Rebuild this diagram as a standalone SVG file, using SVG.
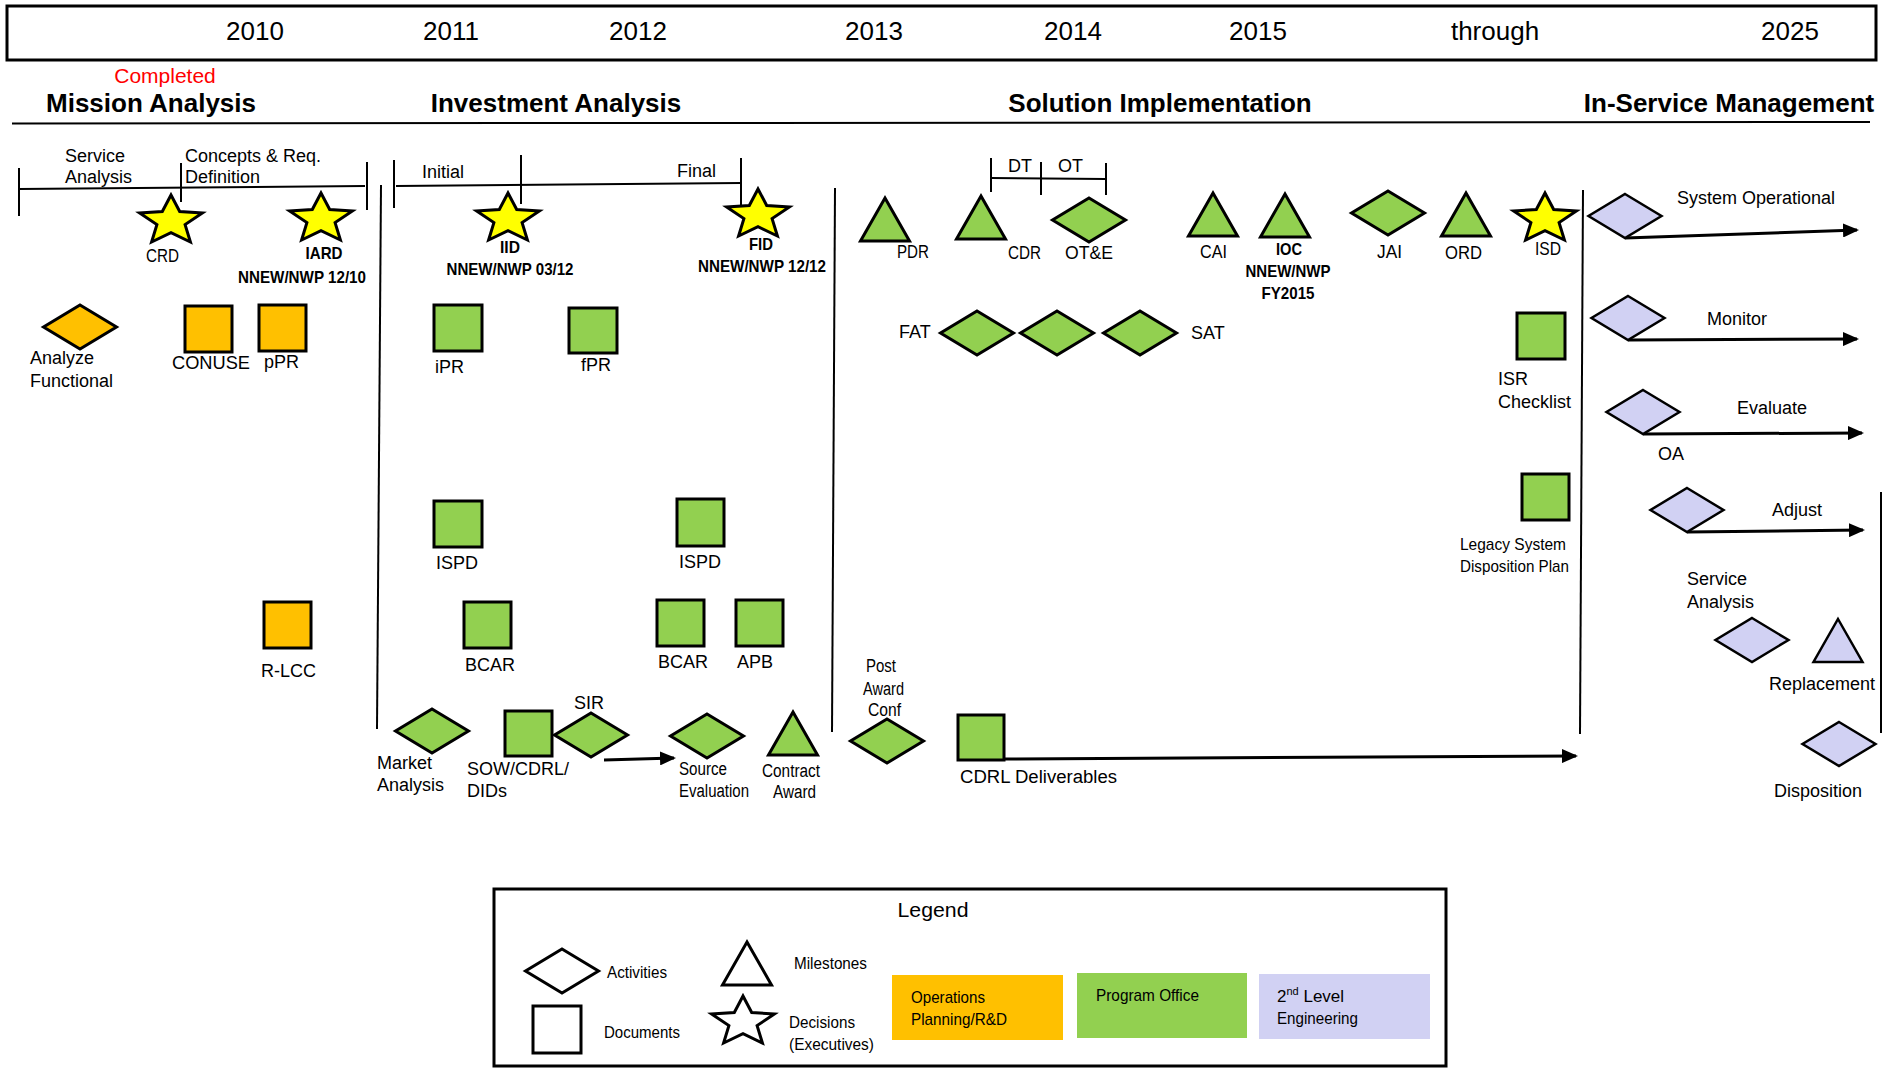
<svg xmlns="http://www.w3.org/2000/svg" xmlns:xlink="http://www.w3.org/1999/xlink" width="1883" height="1068" viewBox="0 0 1883 1068">
<style>
text{font-family:"Liberation Sans",Arial,sans-serif;font-size:18px;fill:#000}
.yr{font-size:26px;text-anchor:middle}
.hd{font-size:26px;font-weight:bold;text-anchor:middle}
.bd{font-size:17px;font-weight:bold;text-anchor:middle}
.lg{font-size:17px}
.sh{stroke:#000;stroke-width:3;stroke-linejoin:miter}
.lv{stroke:#000;stroke-width:2.5;stroke-linejoin:miter;fill:#D1D1F3}
.gr{fill:#92D050}
.or{fill:#FFC000}
.ye{fill:#FFFF00}
.wh{fill:#FFFFFF}
.ln{stroke:#000;stroke-width:2;fill:none}
.ar{stroke:#000;stroke-width:3;fill:none;marker-end:url(#ah)}
</style>
<defs>
<path id="dia" d="M0,-22 L36.5,0 L0,22 L-36.5,0 Z"/>
<path id="tri" d="M0,0 L24.5,43 L-24.5,43 Z"/>
<path id="star" d="M0,-26 L8.7,-9.5 L31.4,-8 L14.1,3.6 L19.4,21 L0,11.7 L-19.4,21 L-14.1,3.6 L-31.4,-8 L-8.7,-9.5 Z"/>
<marker id="ah" markerUnits="userSpaceOnUse" markerWidth="16" markerHeight="14" viewBox="0 0 16 14" refX="14" refY="7" orient="auto">
<path d="M0,0 L16,7 L0,14 Z" fill="#000"/>
</marker>
</defs>
<rect width="1883" height="1068" fill="#fff"/>

<g id="timeline-header">
<rect x="7" y="6" width="1869" height="54" fill="none" stroke="#000" stroke-width="3"/>
<text class="yr" x="255" y="40">2010</text>
<text class="yr" x="451" y="40">2011</text>
<text class="yr" x="638" y="40">2012</text>
<text class="yr" x="874" y="40">2013</text>
<text class="yr" x="1073" y="40">2014</text>
<text class="yr" x="1258" y="40">2015</text>
<text class="yr" x="1495" y="40">through</text>
<text class="yr" x="1790" y="40">2025</text>
</g>

<g id="phases">
<text x="165" y="83" style="font-size:21px;fill:#FF0000" text-anchor="middle">Completed</text>
<text class="hd" x="151" y="112">Mission Analysis</text>
<text class="hd" x="556" y="112">Investment Analysis</text>
<text class="hd" x="1160" y="112">Solution Implementation</text>
<text class="hd" x="1729" y="112">In-Service Management</text>
<line class="ln" x1="12" y1="123.5" x2="1870" y2="122"/>
</g>

<g id="connectors">
<line class="ln" x1="19" y1="189" x2="365" y2="186"/>
<line class="ln" x1="19" y1="168" x2="19" y2="216"/>
<line class="ln" x1="181" y1="163" x2="181" y2="202"/>
<line class="ln" x1="367" y1="162" x2="367" y2="210"/>
<line class="ln" x1="394" y1="160" x2="394" y2="208"/>
<line class="ln" x1="396" y1="186" x2="741" y2="183"/>
<line class="ln" x1="521" y1="155" x2="521" y2="204"/>
<line class="ln" x1="741" y1="158" x2="741" y2="208"/>
<line class="ln" x1="991" y1="158" x2="991" y2="192"/>
<line class="ln" x1="1041" y1="162" x2="1041" y2="195"/>
<line class="ln" x1="1106" y1="163" x2="1106" y2="195"/>
<line class="ln" x1="991" y1="178" x2="1106" y2="179"/>
<line class="ln" x1="381" y1="185" x2="377" y2="729" stroke-width="2.5"/>
<line class="ln" x1="835" y1="188" x2="832" y2="732" stroke-width="2.5"/>
<line class="ln" x1="1583" y1="190" x2="1580" y2="734" stroke-width="2.5"/>
<line class="ln" x1="1881" y1="492" x2="1881" y2="733"/>
<line class="ar" x1="604" y1="760" x2="674" y2="758"/>
<line class="ar" x1="1004" y1="759" x2="1576" y2="756"/>
<line class="ar" x1="1625" y1="238" x2="1857" y2="230"/>
<line class="ar" x1="1628" y1="340" x2="1857" y2="339"/>
<line class="ar" x1="1643" y1="434" x2="1862" y2="433"/>
<line class="ar" x1="1687" y1="532" x2="1863" y2="530"/>
</g>

<g id="timeline-labels">
<text x="65" y="162">Service</text>
<text x="65" y="183">Analysis</text>
<text x="185" y="162">Concepts &amp; Req.</text>
<text x="185" y="183">Definition</text>
<text x="422" y="178">Initial</text>
<text x="677" y="177">Final</text>
<text x="1008" y="172">DT</text>
<text x="1058" y="172">OT</text>
</g>

<g id="n-crd"><use href="#star" x="171" y="221" class="sh ye"/><text x="146" y="262" textLength="33" lengthAdjust="spacingAndGlyphs">CRD</text></g>
<g id="n-iard"><use href="#star" x="321" y="219" class="sh ye"/><text class="bd" x="324" y="259" textLength="37" lengthAdjust="spacingAndGlyphs">IARD</text><text class="bd" x="302" y="283" textLength="128" lengthAdjust="spacingAndGlyphs">NNEW/NWP 12/10</text></g>
<g id="n-iid"><use href="#star" x="508" y="219" class="sh ye"/><text class="bd" x="510" y="253" textLength="20" lengthAdjust="spacingAndGlyphs">IID</text><text class="bd" x="510" y="275" textLength="127" lengthAdjust="spacingAndGlyphs">NNEW/NWP 03/12</text></g>
<g id="n-fid"><use href="#star" x="758" y="215" class="sh ye"/><text class="bd" x="761" y="250" textLength="24" lengthAdjust="spacingAndGlyphs">FID</text><text class="bd" x="762" y="272" textLength="128" lengthAdjust="spacingAndGlyphs">NNEW/NWP 12/12</text></g>

<g id="n-analyze"><use href="#dia" x="80" y="327" class="sh or"/><text x="30" y="364">Analyze</text><text x="30" y="387">Functional</text></g>
<g id="n-conuse"><rect x="185" y="306" width="47" height="46" class="sh or"/><text x="172" y="369" textLength="78" lengthAdjust="spacingAndGlyphs">CONUSE</text></g>
<g id="n-ppr"><rect x="259" y="305" width="47" height="46" class="sh or"/><text x="264" y="368">pPR</text></g>
<g id="n-rlcc"><rect x="264" y="602" width="47" height="46" class="sh or"/><text x="261" y="677">R-LCC</text></g>

<g id="n-ipr"><rect x="434" y="305" width="48" height="46" class="sh gr"/><text x="435" y="373">iPR</text></g>
<g id="n-fpr"><rect x="569" y="308" width="48" height="45" class="sh gr"/><text x="581" y="371">fPR</text></g>
<g id="n-ispd1"><rect x="434" y="501" width="48" height="46" class="sh gr"/><text x="436" y="569">ISPD</text></g>
<g id="n-ispd2"><rect x="677" y="499" width="47" height="47" class="sh gr"/><text x="679" y="568">ISPD</text></g>
<g id="n-bcar1"><rect x="464" y="602" width="47" height="46" class="sh gr"/><text x="465" y="671">BCAR</text></g>
<g id="n-bcar2"><rect x="657" y="600" width="47" height="46" class="sh gr"/><text x="658" y="668">BCAR</text></g>
<g id="n-apb"><rect x="736" y="600" width="47" height="46" class="sh gr"/><text x="737" y="668">APB</text></g>

<g id="n-market"><use href="#dia" x="432" y="731" class="sh gr"/><text x="377" y="769">Market</text><text x="377" y="791">Analysis</text></g>
<g id="n-sow"><rect x="505" y="711" width="47" height="45" class="sh gr"/><text x="467" y="775">SOW/CDRL/</text><text x="467" y="797">DIDs</text></g>
<g id="n-sir"><use href="#dia" x="591" y="735" class="sh gr"/><text x="574" y="709">SIR</text></g>
<g id="n-source"><use href="#dia" x="707" y="736" class="sh gr"/><text x="679" y="775" textLength="48" lengthAdjust="spacingAndGlyphs">Source</text><text x="679" y="797" textLength="70" lengthAdjust="spacingAndGlyphs">Evaluation</text></g>
<g id="n-contract"><use href="#tri" x="793" y="712" class="sh gr"/><text x="762" y="777" textLength="58" lengthAdjust="spacingAndGlyphs">Contract</text><text x="773" y="798" textLength="43" lengthAdjust="spacingAndGlyphs">Award</text></g>

<g id="n-pdr"><use href="#tri" x="885" y="198" class="sh gr"/><text x="897" y="258" textLength="32" lengthAdjust="spacingAndGlyphs">PDR</text></g>
<g id="n-cdr"><use href="#tri" x="981" y="196" class="sh gr"/><text x="1008" y="259" textLength="33" lengthAdjust="spacingAndGlyphs">CDR</text></g>
<g id="n-ote"><use href="#dia" x="1089" y="220" class="sh gr"/><text x="1065" y="259" textLength="48" lengthAdjust="spacingAndGlyphs">OT&amp;E</text></g>
<g id="n-cai"><use href="#tri" x="1213" y="193" class="sh gr"/><text x="1200" y="258" textLength="27" lengthAdjust="spacingAndGlyphs">CAI</text></g>
<g id="n-ioc"><use href="#tri" x="1285" y="194" class="sh gr"/><text class="bd" x="1289" y="255" textLength="26" lengthAdjust="spacingAndGlyphs">IOC</text><text class="bd" x="1288" y="277" textLength="85" lengthAdjust="spacingAndGlyphs">NNEW/NWP</text><text class="bd" x="1288" y="299" textLength="53" lengthAdjust="spacingAndGlyphs">FY2015</text></g>
<g id="n-jai"><use href="#dia" x="1388" y="213" class="sh gr"/><text x="1377" y="258" textLength="25" lengthAdjust="spacingAndGlyphs">JAI</text></g>
<g id="n-ord"><use href="#tri" x="1466" y="193" class="sh gr"/><text x="1445" y="259" textLength="37" lengthAdjust="spacingAndGlyphs">ORD</text></g>
<g id="n-isd"><use href="#star" x="1545" y="219" class="sh ye"/><text x="1535" y="255" textLength="26" lengthAdjust="spacingAndGlyphs">ISD</text></g>

<g id="n-fat"><text x="899" y="338">FAT</text><use href="#dia" x="977" y="333" class="sh gr"/></g>
<g id="n-mid"><use href="#dia" x="1057" y="333" class="sh gr"/></g>
<g id="n-sat"><use href="#dia" x="1140" y="333" class="sh gr"/><text x="1191" y="339">SAT</text></g>

<g id="n-post"><use href="#dia" x="887" y="741" class="sh gr"/><text x="866" y="672" textLength="30" lengthAdjust="spacingAndGlyphs">Post</text><text x="863" y="695" textLength="41" lengthAdjust="spacingAndGlyphs">Award</text><text x="868" y="716" textLength="33" lengthAdjust="spacingAndGlyphs">Conf</text></g>
<g id="n-cdrl"><rect x="958" y="715" width="46" height="45" class="sh gr"/><text x="960" y="783" textLength="157" lengthAdjust="spacingAndGlyphs">CDRL Deliverables</text></g>
<g id="n-isr"><rect x="1517" y="313" width="48" height="46" class="sh gr"/><text x="1498" y="385">ISR</text><text x="1498" y="408">Checklist</text></g>
<g id="n-legacy"><rect x="1522" y="474" width="47" height="46" class="sh gr"/><text class="lg" x="1460" y="550" textLength="106" lengthAdjust="spacingAndGlyphs">Legacy System</text><text class="lg" x="1460" y="572" textLength="109" lengthAdjust="spacingAndGlyphs">Disposition Plan</text></g>

<g id="n-sysop"><use href="#dia" x="1625" y="216" class="lv"/><text x="1677" y="204">System Operational</text></g>
<g id="n-monitor"><use href="#dia" x="1628" y="318" class="lv"/><text x="1707" y="325">Monitor</text></g>
<g id="n-evaluate"><use href="#dia" x="1643" y="412" class="lv"/><text x="1737" y="414">Evaluate</text><text x="1658" y="460">OA</text></g>
<g id="n-adjust"><use href="#dia" x="1687" y="510" class="lv"/><text x="1772" y="516">Adjust</text></g>
<g id="n-service"><use href="#dia" x="1752" y="640" class="lv"/><text x="1687" y="585">Service</text><text x="1687" y="608">Analysis</text></g>
<g id="n-replacement"><use href="#tri" x="1838" y="619" class="lv"/><text x="1769" y="690">Replacement</text></g>
<g id="n-disposition"><use href="#dia" x="1839" y="744" class="lv"/><text x="1774" y="797">Disposition</text></g>

<g id="legend">
<rect x="494" y="889" width="952" height="177" fill="none" stroke="#000" stroke-width="3"/>
<text x="933" y="917" style="font-size:20px" text-anchor="middle" textLength="71" lengthAdjust="spacingAndGlyphs">Legend</text>
<use href="#dia" x="562" y="971" class="sh wh"/>
<text class="lg" x="607" y="978" textLength="60" lengthAdjust="spacingAndGlyphs">Activities</text>
<rect x="533" y="1006" width="48" height="47" class="sh wh"/>
<text class="lg" x="604" y="1038" textLength="76" lengthAdjust="spacingAndGlyphs">Documents</text>
<use href="#tri" x="747" y="942" class="sh wh"/>
<text class="lg" x="794" y="969" textLength="73" lengthAdjust="spacingAndGlyphs">Milestones</text>
<use href="#star" x="743" y="1022" class="sh wh"/>
<text class="lg" x="789" y="1028" textLength="66" lengthAdjust="spacingAndGlyphs">Decisions</text>
<text class="lg" x="789" y="1050" textLength="85" lengthAdjust="spacingAndGlyphs">(Executives)</text>
<rect x="892" y="975" width="171" height="65" class="or"/>
<text class="lg" x="911" y="1003" textLength="74" lengthAdjust="spacingAndGlyphs">Operations</text>
<text class="lg" x="911" y="1025" textLength="96" lengthAdjust="spacingAndGlyphs">Planning/R&amp;D</text>
<rect x="1077" y="973" width="170" height="65" class="gr"/>
<text class="lg" x="1096" y="1001" textLength="103" lengthAdjust="spacingAndGlyphs">Program Office</text>
<rect x="1259" y="974" width="171" height="65" fill="#D1D1F3"/>
<text class="lg" x="1277" y="1002">2<tspan style="font-size:11px" dy="-7">nd</tspan><tspan dy="7"> Level</tspan></text>
<text class="lg" x="1277" y="1024" textLength="81" lengthAdjust="spacingAndGlyphs">Engineering</text>
</g>
</svg>
